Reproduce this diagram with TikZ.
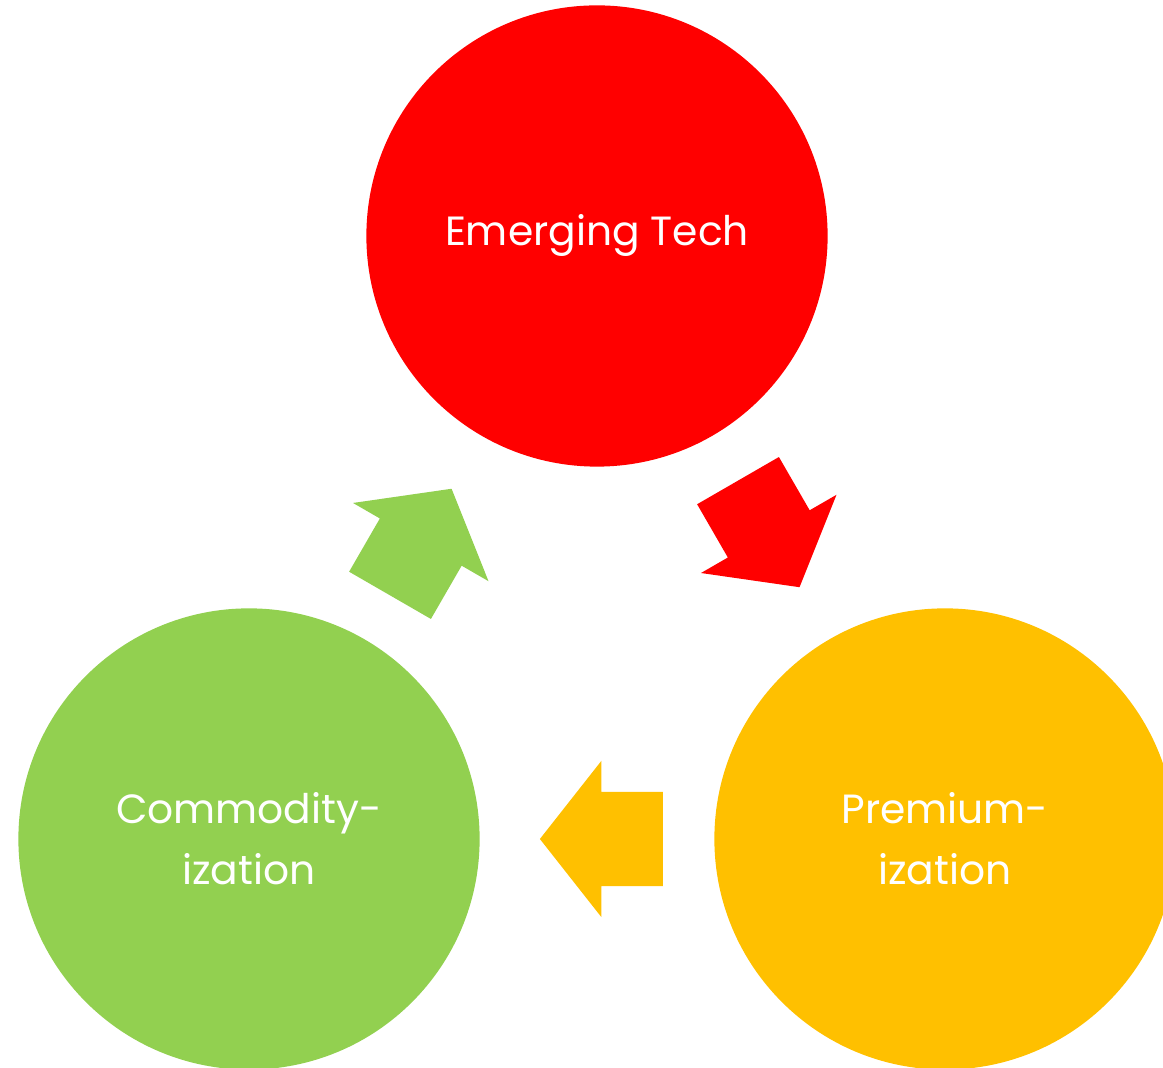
\documentclass[tikz,border=0pt]{standalone}
\usepackage{fontspec}
\setmainfont{Poppins}
\usetikzlibrary{shapes.arrows}
\definecolor{techred}{HTML}{FF0000}
\definecolor{premyellow}{HTML}{FFC000}
\definecolor{comgreen}{HTML}{92D050}

\begin{document}
\begin{tikzpicture}[x=0.01cm,y=-0.01cm]
		
		\tikzset{stage/.style = {shape=circle,minimum size=4.61cm,inner sep=0pt,text=white,align=center,font=\fontsize{11.6}{17.4}\selectfont}}
		\tikzset{turn/.style = {shape=single arrow,minimum height=1.23cm,minimum width=1.55cm,single arrow head extend=0.31cm,single arrow tip angle=103.6,inner xsep=0pt,inner ysep=0.465cm,anchor=tip}}
		\useasboundingbox (0,0) rectangle (1163,1068);
		\clip (0,0) rectangle (1163,1068);
		% stages
		\node[stage,fill=techred] (tech) at (597,236) {Emerging Tech};
		\node[stage,fill=premyellow] (prem) at (945,839) {Premium-\\ization};
		\node[stage,fill=comgreen] (com) at (249,839) {Commodity-\\ization};
		% arrows
		\node[turn,fill=techred,rotate=-60] (toprem) at (800,588) {};
		\node[turn,fill=premyellow,rotate=180] (tocom) at (539,839) {};
		\node[turn,fill=comgreen,rotate=60] (totech) at (452,488) {};
		\end{tikzpicture}
\end{document}
